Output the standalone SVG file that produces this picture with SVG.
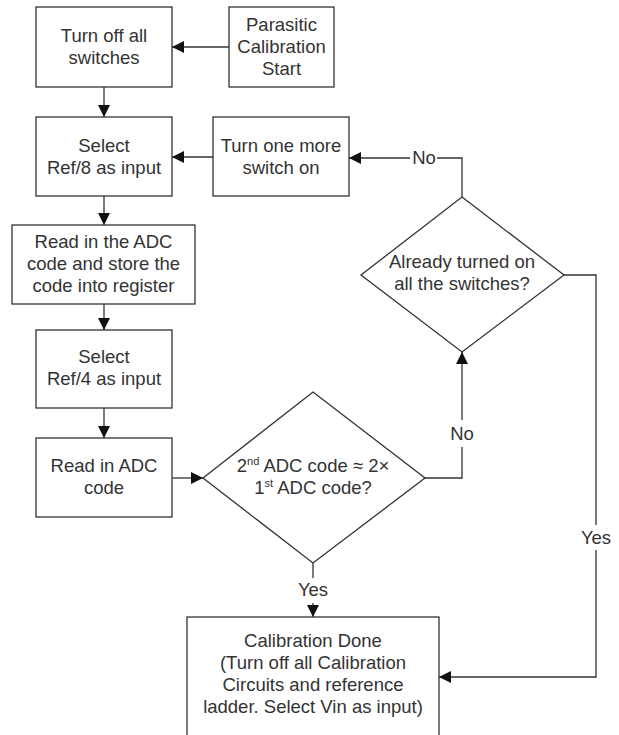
<svg xmlns="http://www.w3.org/2000/svg" width="619" height="735" viewBox="0 0 619 735">
<style>
.box{fill:#fff;stroke:#333;stroke-width:1.3}
.ln{fill:none;stroke:#333;stroke-width:1.3}
text{font-family:"Liberation Sans",Arial,sans-serif;font-size:18.5px;fill:#333;text-anchor:middle}
.sup{font-size:11px}
</style>
<defs>
<marker id="ah" viewBox="0 0 12 12" refX="12" refY="6" markerWidth="12" markerHeight="12" markerUnits="userSpaceOnUse" orient="auto">
<path d="M0,0 L12,6 L0,12 Z" fill="#111"/>
</marker>
</defs>
<rect width="619" height="735" fill="#fff"/>
<g id="connectors">
<line class="ln" x1="229" y1="47" x2="172" y2="47" marker-end="url(#ah)"/>
<line class="ln" x1="104" y1="87" x2="104" y2="117" marker-end="url(#ah)"/>
<line class="ln" x1="213" y1="157" x2="172" y2="157" marker-end="url(#ah)"/>
<line class="ln" x1="104" y1="196" x2="104" y2="225" marker-end="url(#ah)"/>
<line class="ln" x1="104" y1="304" x2="104" y2="330" marker-end="url(#ah)"/>
<line class="ln" x1="104" y1="408" x2="104" y2="438" marker-end="url(#ah)"/>
<line class="ln" x1="172" y1="478" x2="203" y2="478" marker-end="url(#ah)"/>
<polyline class="ln" points="462,197 462,158 437,158"/>
<line class="ln" x1="410" y1="158" x2="349" y2="158" marker-end="url(#ah)"/>
<polyline class="ln" points="425,478 462,478 462,447"/>
<line class="ln" x1="462" y1="420" x2="462" y2="352" marker-end="url(#ah)"/>
<polyline class="ln" points="564,275 596,275 596,525"/>
<polyline class="ln" points="596,550 596,677 439,677" marker-end="url(#ah)"/>
<line class="ln" x1="313" y1="563" x2="313" y2="578"/>
<line class="ln" x1="313" y1="603" x2="313" y2="617" marker-end="url(#ah)"/>
<text x="424" y="164">No</text>
<text x="462" y="440">No</text>
<text x="596" y="544">Yes</text>
<text x="313" y="596">Yes</text>
</g>
<g id="n_start">
<rect class="box" x="229" y="7" width="105" height="80"/>
<text x="281.5" y="31">Parasitic</text>
<text x="281.5" y="53">Calibration</text>
<text x="281.5" y="75">Start</text>
</g>
<g id="n_off">
<rect class="box" x="36" y="7" width="136" height="80"/>
<text x="104" y="42">Turn off all</text>
<text x="104" y="64">switches</text>
</g>
<g id="n_ref8">
<rect class="box" x="36" y="117" width="136" height="79"/>
<text x="104" y="152">Select</text>
<text x="104" y="174">Ref/8 as input</text>
</g>
<g id="n_more">
<rect class="box" x="213" y="117" width="136" height="79"/>
<text x="281" y="152">Turn one more</text>
<text x="281" y="174">switch on</text>
</g>
<g id="n_read1">
<rect class="box" x="12" y="225" width="183" height="79"/>
<text x="103.5" y="248">Read in the ADC</text>
<text x="103.5" y="270">code and store the</text>
<text x="103.5" y="292">code into register</text>
</g>
<g id="n_ref4">
<rect class="box" x="36" y="330" width="136" height="78"/>
<text x="104" y="363">Select</text>
<text x="104" y="385">Ref/4 as input</text>
</g>
<g id="n_read2">
<rect class="box" x="36" y="438" width="136" height="79"/>
<text x="104" y="472">Read in ADC</text>
<text x="104" y="494">code</text>
</g>
<g id="n_cmp">
<polygon class="box" points="313,392 425,478 313,563 203,478"/>
<text x="313" y="472">2<tspan class="sup" dy="-7">nd</tspan><tspan dy="7"> ADC code ≈ 2×</tspan></text>
<text x="313" y="494">1<tspan class="sup" dy="-7">st</tspan><tspan dy="7"> ADC code?</tspan></text>
</g>
<g id="n_all">
<polygon class="box" points="462,197 564,275 462,352 361,275"/>
<text x="462" y="268">Already turned on</text>
<text x="462" y="290">all the switches?</text>
</g>
<g id="n_done">
<rect class="box" x="187" y="617" width="252" height="130"/>
<text x="313" y="647">Calibration Done</text>
<text x="313" y="669">(Turn off all Calibration</text>
<text x="313" y="691">Circuits and reference</text>
<text x="313" y="713">ladder. Select Vin as input)</text>
</g>
</svg>
